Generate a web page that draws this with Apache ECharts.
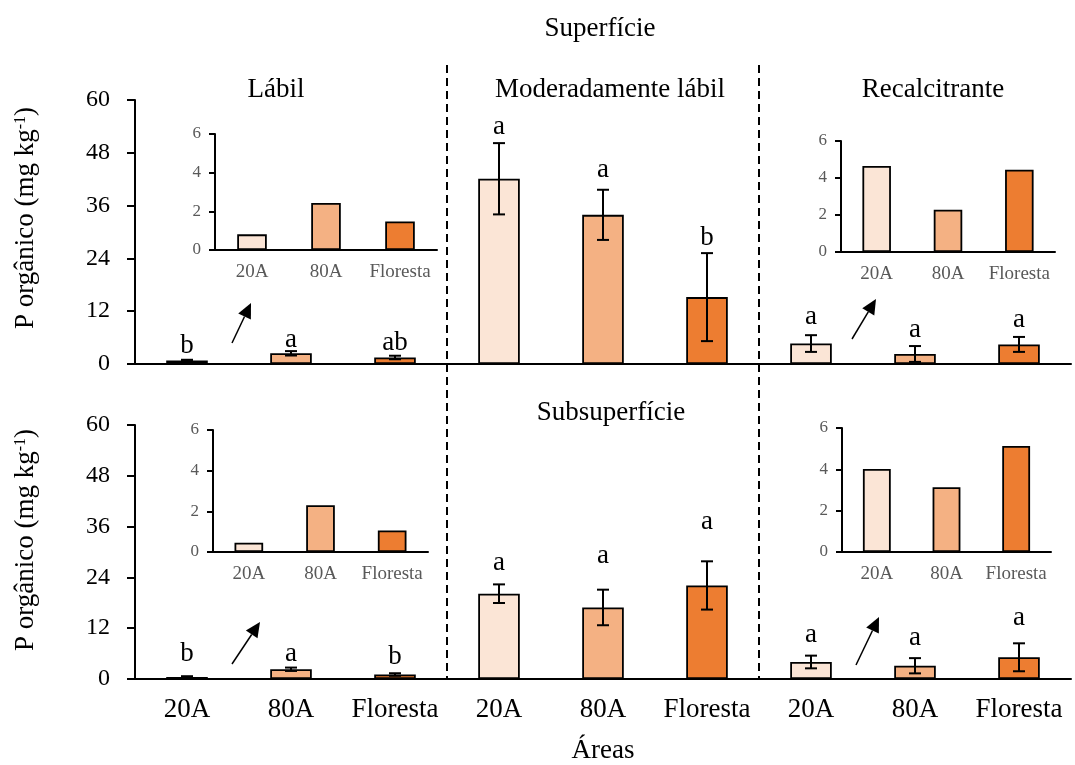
<!DOCTYPE html>
<html>
<head>
<meta charset="utf-8">
<script src="https://cdn.jsdelivr.net/npm/echarts@6/dist/echarts.min.js"></script>
<style>
  html, body { margin: 0; padding: 0; background: #fff; }
  #chart { width: 1075px; height: 765px; }
</style>
</head>
<body>
<div id="chart"></div>
<script>
// ---------------- DATA ----------------
const areas = ['20A', '80A', 'Floresta'];
const fractions = ['Lábil', 'Moderadamente lábil', 'Recalcitrante'];
const layers = ['Superfície', 'Subsuperfície'];
const xTitle = 'Áreas';
const mainYTicks = [0, 12, 24, 36, 48, 60];
const insetYTicks = [0, 2, 4, 6];

// Superfície
const supLabil = [0.81, 2.43, 1.48];
const supLabilErr = [0.15, 0.5, 0.4];
const supLabilLetters = ['b', 'a', 'ab'];
const supModerado = [42.1, 33.9, 15.2];
const supModeradoErr = [8.1, 5.7, 10.0];
const supModeradoLetters = ['a', 'a', 'b'];
const supRecal = [4.65, 2.28, 4.45];
const supRecalErr = [1.9, 1.8, 1.7];
const supRecalLetters = ['a', 'a', 'a'];

// Subsuperfície
const subLabil = [0.46, 2.3, 1.06];
const subLabilErr = [0.2, 0.4, 0.3];
const subLabilLetters = ['b', 'a', 'b'];
const subModerado = [20.15, 16.9, 22.1];
const subModeradoErr = [2.2, 4.2, 5.7];
const subModeradoLetters = ['a', 'a', 'a'];
const subRecal = [4.02, 3.13, 5.13];
const subRecalErr = [1.5, 1.8, 3.3];
const subRecalLetters = ['a', 'a', 'a'];

// ---------------- STYLE / LAYOUT ----------------
const FONT = "'Liberation Serif', 'Times New Roman', serif";
const COLORS = ['#FBE5D6', '#F4B183', '#ED7D31'];
const INK = '#000000';
const GREY = '#595959';
const GRID_LEFT = 135, GRID_W = 936;
const ROWS = [{ top: 100, height: 264 }, { top: 425, height: 254 }];
const INSETS = [
  { left: 215, top: 134, width: 222, height: 116 },
  { left: 841, top: 141, width: 214, height: 111 },
  { left: 213, top: 430, width: 215, height: 122 },
  { left: 842, top: 428, width: 209, height: 124 }
];
// distance (px) from error-bar top to centre of the letter
const LETTER_GAP = [
  [14, 11, 13, 16.5, 20, 15.5, 18.5, 16.5, 17],
  [22, 14, 16, 21.5, 34, 39, 21, 20, 25]
];

// ---------------- BUILD ----------------
const cats = [];
fractions.forEach((f, fi) => areas.forEach(a => cats.push(a + '#' + fi)));

const rowsData = [
  { means: [].concat(supLabil, supModerado, supRecal),
    errs: [].concat(supLabilErr, supModeradoErr, supRecalErr),
    letters: [].concat(supLabilLetters, supModeradoLetters, supRecalLetters) },
  { means: [].concat(subLabil, subModerado, subRecal),
    errs: [].concat(subLabilErr, subModeradoErr, subRecalErr),
    letters: [].concat(subLabilLetters, subModeradoLetters, subRecalLetters) }
];
const insetData = [supLabil, supRecal, subLabil, subRecal];

const grid = [], xAxis = [], yAxis = [], series = [];

ROWS.forEach((r, ri) => {
  grid.push({ left: GRID_LEFT, top: r.top, width: GRID_W, height: r.height, containLabel: false });
  xAxis.push({
    type: 'category', gridIndex: ri, data: cats,
    axisLine: { show: true, lineStyle: { color: INK, width: 2 } },
    axisTick: { show: false },
    axisLabel: {
      show: ri === 1, interval: 0, margin: 17, color: INK, fontFamily: FONT, fontSize: 27,
      formatter: v => v.split('#')[0]
    },
    name: ri === 1 ? xTitle : '', nameLocation: 'middle', nameGap: 58,
    nameTextStyle: { color: INK, fontFamily: FONT, fontSize: 27 }
  });
  yAxis.push({
    type: 'value', gridIndex: ri, min: mainYTicks[0], max: mainYTicks[mainYTicks.length - 1],
    interval: mainYTicks[1] - mainYTicks[0],
    axisLine: { show: true, lineStyle: { color: INK, width: 2 } },
    axisTick: { show: true, length: 8, lineStyle: { color: INK, width: 2 } },
    axisLabel: { color: INK, fontFamily: FONT, fontSize: 24, margin: 25 },
    splitLine: { show: false }
  });
  const d = rowsData[ri];
  series.push({
    type: 'bar', xAxisIndex: ri, yAxisIndex: ri, barWidth: '40%',
    data: d.means.map((v, i) => ({
      value: v,
      itemStyle: { color: COLORS[i % 3], borderColor: INK, borderWidth: 1.8 }
    })),
    z: 2
  });
  series.push({
    type: 'custom', xAxisIndex: ri, yAxisIndex: ri, z: 5,
    data: d.means.map((v, i) => [i, v, d.errs[i]]),
    renderItem: (params, api) => {
      const i = api.value(0), m = api.value(1), e = api.value(2);
      const top = api.coord([i, m + e]);
      const bot = api.coord([i, Math.max(0, m - e)]);
      const cap = 6;
      const x = top[0];
      return {
        type: 'group',
        children: [
          { type: 'line', shape: { x1: x, y1: top[1], x2: x, y2: bot[1] }, style: { stroke: INK, lineWidth: 2 } },
          { type: 'line', shape: { x1: x - cap, y1: top[1], x2: x + cap, y2: top[1] }, style: { stroke: INK, lineWidth: 2 } },
          { type: 'line', shape: { x1: x - cap, y1: bot[1], x2: x + cap, y2: bot[1] }, style: { stroke: INK, lineWidth: 2 } },
          { type: 'text', style: {
              text: d.letters[params.dataIndex], x: x, y: top[1] - LETTER_GAP[ri][params.dataIndex],
              align: 'center', verticalAlign: 'middle', fill: INK, fontSize: 27, fontFamily: FONT } }
        ]
      };
    }
  });
});

INSETS.forEach((g, k) => {
  const gi = 2 + k;
  grid.push({ left: g.left, top: g.top, width: g.width, height: g.height });
  xAxis.push({
    type: 'category', gridIndex: gi, data: areas,
    axisLine: { show: true, lineStyle: { color: INK, width: 2 } },
    axisTick: { show: false },
    axisLabel: { interval: 0, color: GREY, fontFamily: FONT, fontSize: 19, margin: 13 }
  });
  yAxis.push({
    type: 'value', gridIndex: gi, min: insetYTicks[0], max: insetYTicks[insetYTicks.length - 1],
    interval: insetYTicks[1] - insetYTicks[0],
    axisLine: { show: true, lineStyle: { color: INK, width: 2 } },
    axisTick: { show: true, length: 6, lineStyle: { color: INK, width: 2 } },
    axisLabel: { color: GREY, fontFamily: FONT, fontSize: 17, margin: 14 },
    splitLine: { show: false }
  });
  series.push({
    type: 'bar', xAxisIndex: gi, yAxisIndex: gi, barWidth: '40%',
    data: insetData[k].map((v, i) => ({
      value: v, itemStyle: { color: COLORS[i], borderColor: INK, borderWidth: 1.8 }
    }))
  });
});

// ---------------- ANNOTATIONS ----------------
function arrow(x1, y1, x2, y2) {
  const dx = x2 - x1, dy = y2 - y1, L = Math.hypot(dx, dy);
  const ux = dx / L, uy = dy / L, hl = 15, hw = 7;
  const bx = x2 - ux * hl, by = y2 - uy * hl;
  return [
    { type: 'line', shape: { x1: x1, y1: y1, x2: bx, y2: by }, style: { stroke: INK, lineWidth: 1.5 } },
    { type: 'polygon', shape: { points: [[x2, y2], [bx - uy * hw, by + ux * hw], [bx + uy * hw, by - ux * hw]] },
      style: { fill: INK } }
  ];
}
const band = GRID_W / cats.length;
const graphics = [];
[3, 6].forEach(n => {
  const x = GRID_LEFT + band * n;
  graphics.push({ type: 'line', shape: { x1: x, y1: 65, x2: x, y2: 679 },
    style: { stroke: INK, lineWidth: 2, lineDash: [8, 5] }, z: 10 });
});
graphics.push(...arrow(232, 343, 251, 303));
graphics.push(...arrow(852, 339, 876, 299));
graphics.push(...arrow(232, 664, 260, 622));
graphics.push(...arrow(856, 665, 879, 617));

const textStyle = (t, x, y, size) => ({
  type: 'text', x: x, y: y,
  style: { text: t, fill: INK, fontSize: size, fontFamily: FONT, align: 'center', verticalAlign: 'middle' }
});
graphics.push(textStyle(layers[0], 600, 29, 27));
graphics.push(textStyle(layers[1], 611, 413, 27));
graphics.push(textStyle(fractions[0], 276, 90, 27));
graphics.push(textStyle(fractions[1], 610, 90, 27));
graphics.push(textStyle(fractions[2], 933, 90, 27));

[218, 540].forEach(cy => {
  graphics.push({
    type: 'text', x: 26, y: cy, rotation: Math.PI / 2,
    style: {
      text: '{n|P orgânico (mg kg}{s|-1}{n|)}',
      align: 'center', verticalAlign: 'middle', fill: INK,
      rich: {
        n: { fontSize: 27, fontFamily: FONT, fill: INK, verticalAlign: 'bottom' },
        s: { fontSize: 16, fontFamily: FONT, fill: INK, verticalAlign: 'top' }
      }
    }
  });
});

const chart = echarts.init(document.getElementById('chart'), null, { renderer: 'canvas' });
chart.setOption({
  backgroundColor: '#ffffff',
  animation: false,
  grid: grid, xAxis: xAxis, yAxis: yAxis, series: series,
  graphic: graphics
});
</script>
</body>
</html>
